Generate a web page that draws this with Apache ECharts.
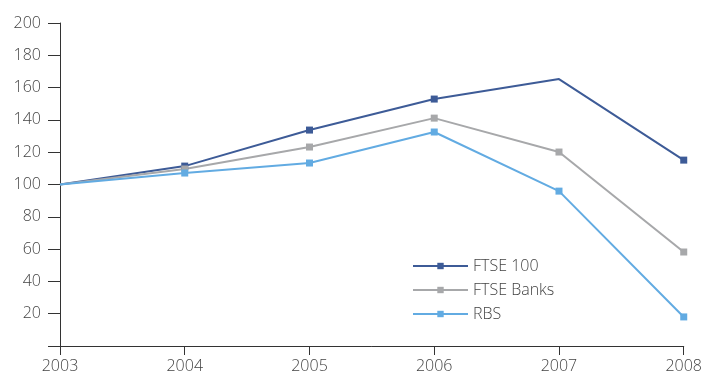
<!DOCTYPE html>
<html>
<head>
<meta charset="utf-8">
<script src="https://cdn.jsdelivr.net/npm/echarts@6/dist/echarts.min.js"></script>
<style>
  html, body { margin: 0; padding: 0; background: #fff; }
  #chart { width: 705px; height: 376px; }
</style>
</head>
<body>
<div id="chart"></div>
<script>
// --- data ---------------------------------------------------------
var years = ['2003', '2004', '2005', '2006', '2007', '2008'];
var ftse100 = [100, 111.4, 133.7, 152.9, 165.3, 115.1];
var ftseBanks = [100, 109.6, 123.2, 141.1, 120.1, 58.2];
var rbs = [100, 107.1, 113.3, 132.5, 95.9, 18];
// points drawn without a marker in the original
var noMarker = {
  'FTSE 100': [0, 4],
  'FTSE Banks': [0],
  'RBS': [0]
};

var chart = echarts.init(document.getElementById('chart'));

function makeSeries(name, values, color) {
  var pts = values.map(function (v, i) {
    if (noMarker[name].indexOf(i) >= 0) {
      return { value: v, symbol: 'none' };
    }
    return v;
  });
  return {
    name: name,
    type: 'line',
    data: pts,
    symbol: 'rect',
    symbolSize: 7,
    color: color,
    lineStyle: { width: 2, color: color },
    itemStyle: { color: color },
    emphasis: { disabled: true },
    animation: false
  };
}

var labelFont = {
  color: '#444',
  fontSize: 16,
  fontWeight: 300,
  fontFamily: 'Open Sans, Liberation Sans, Arial, sans-serif'
};

var option = {
  backgroundColor: '#fff',
  grid: { left: 60, right: 21, top: 23, bottom: 30, containLabel: false },
  legend: {
    orient: 'vertical',
    left: 407,
    top: 253,
    itemWidth: 55,
    itemHeight: 8,
    itemGap: 8,
    textStyle: labelFont,
    data: [
      { name: 'FTSE 100' },
      { name: 'FTSE Banks' },
      { name: 'RBS' }
    ]
  },
  xAxis: {
    type: 'category',
    data: years,
    boundaryGap: false,
    axisLine: { lineStyle: { color: '#333', width: 1 } },
    axisTick: { show: true, length: 9, inside: false, lineStyle: { color: '#333' } },
    axisLabel: Object.assign({ margin: 12, showMinLabel: true, showMaxLabel: true }, labelFont),
    splitLine: { show: false }
  },
  yAxis: {
    type: 'value',
    min: 0,
    max: 200,
    interval: 20,
    axisLine: { show: true, lineStyle: { color: '#333', width: 1 } },
    axisTick: { show: true, length: 12, lineStyle: { color: '#333' } },
    axisLabel: Object.assign({
      margin: 19,
      formatter: function (v) { return v === 0 ? '' : v; }
    }, labelFont),
    splitLine: { show: false }
  },
  series: [
    makeSeries('FTSE 100', ftse100, '#3d5b97'),
    makeSeries('FTSE Banks', ftseBanks, '#a7a8aa'),
    makeSeries('RBS', rbs, '#62abe2')
  ]
};

chart.setOption(option);
</script>
</body>
</html>
